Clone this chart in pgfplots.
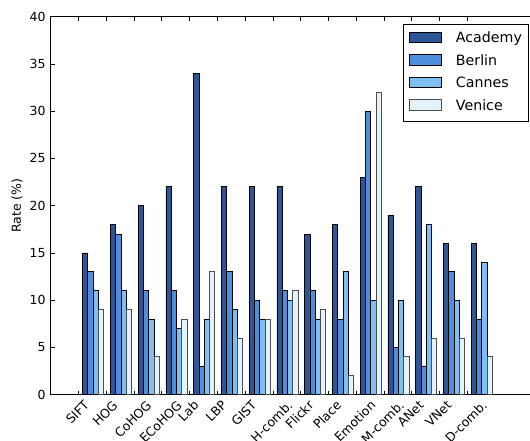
\documentclass[border=0pt]{standalone}
\usepackage{fontspec}
\setmainfont{DejaVu Sans}
\usepackage{graphicx}
\usepackage{pgfplots}
\usepackage{pgfplotstable}
\pgfplotsset{compat=1.18}
\definecolor{cA}{HTML}{2E5597}
\definecolor{cB}{HTML}{4E8FDC}
\definecolor{cC}{HTML}{7EBEF0}
\definecolor{cD}{HTML}{E4F2FC}
\pgfplotstableread{
x a b c d
0 15 13 11 9
1 18 17 11 9
2 20 11 8 4
3 22 11 7 8
4 34 3 8 13
5 22 13 9 6
6 22 10 8 8
7 22 11 10 11
8 17 11 8 9
9 18 8 13 2
10 23 30 10 32
11 19 5 10 4
12 22 3 18 6
13 16 13 10 6
14 16 8 14 4
}\data
\newcommand{\rl}[1]{\rotatebox{45}{\strut #1}}
\begin{document}
\begin{tikzpicture}
\begin{axis}[
  at={(50.7pt,46.3pt)}, anchor=south west,
  scale only axis, width=485.8pt, height=378pt,
  xmin=-1, xmax=16.5, ymin=0, ymax=40,
  ytick={0,5,...,40},
  xtick={0,...,14},
  xticklabels={\rl{SIFT},\rl{HOG},\rl{CoHOG},\rl{ECoHOG},\rl{Lab},\rl{LBP},\rl{GIST},\rl{H-comb.},\rl{Flickr},\rl{Place},\rl{Emotion},\rl{M-comb.},\rl{ANet},\rl{VNet},\rl{D-comb.}},
  tick align=inside, major tick length=4pt,
  tick style={line width=0.5pt, black},
  axis line style={line width=0.8pt},
  /pgf/number format/assume math mode=true,
  ticklabel style={font=\fontsize{12.5}{15}\selectfont},
  xticklabel style={anchor=north, inner sep=0pt, yshift=-4pt},
  yticklabel style={anchor=east, inner sep=0pt, xshift=-5pt},
  ylabel={Rate (\%)},
  every axis y label/.style={at={(axis description cs:0,0.5)}, xshift=-33.7pt, anchor=center, rotate=90, font=\fontsize{12.5}{15}\selectfont},
  legend style={at={(1,1)}, xshift=-8.2pt, yshift=-7.3pt, anchor=north east, draw=black, line width=0.8pt,
    font=\fontsize{14.2}{17}\selectfont, row sep=8.2pt, inner xsep=6pt, inner ysep=7.6pt,
    nodes={inner sep=0pt, text height=10.5pt, text depth=3.5pt},
    /tikz/every odd column/.style={column sep=14pt}},
  legend cell align=left,
  legend image code/.code={\draw[#1, line width=0.8pt] (0pt,-3.45pt) rectangle (32pt,6.85pt);},
]
\addplot[ybar, bar width=0.19, bar shift=0.245, fill=cA, draw=black, line width=0.8pt] table[x=x,y=a]{\data};
\addplot[ybar, bar width=0.19, bar shift=0.435, fill=cB, draw=black, line width=0.8pt] table[x=x,y=b]{\data};
\addplot[ybar, bar width=0.19, bar shift=0.625, fill=cC, draw=black, line width=0.8pt] table[x=x,y=c]{\data};
\addplot[ybar, bar width=0.19, bar shift=0.815, fill=cD, draw=black!70, line width=0.8pt] table[x=x,y=d]{\data};
\legend{Academy,Berlin,Cannes,Venice}
\end{axis}
\pgfresetboundingbox
\useasboundingbox (0,0) rectangle (530pt,441pt);
\end{tikzpicture}
\end{document}
